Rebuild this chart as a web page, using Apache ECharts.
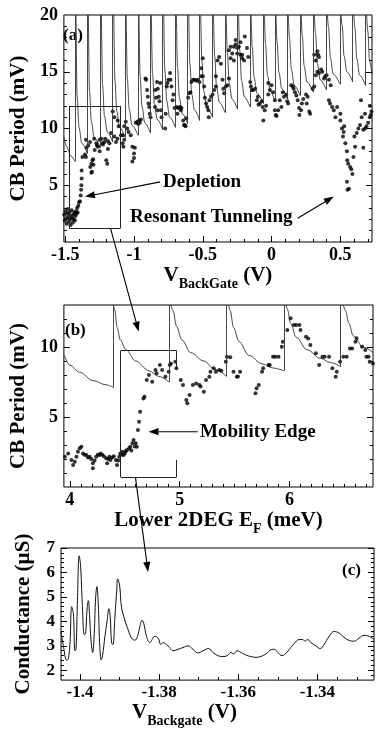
<!DOCTYPE html>
<html>
<head>
<meta charset="utf-8">
<script src="https://cdn.jsdelivr.net/npm/echarts@6/dist/echarts.min.js"></script>
<style>
html, body { margin: 0; padding: 0; background: #fff; }
#chart { width: 377px; height: 729px; }
</style>
</head>
<body>
<div id="chart"></div>
<script>
// ---------- panel (a): CB period vs back gate ----------
const aXMajor = [-1.5, -1, -0.5, 0, 0.5];
const aXMinor = [-1.4, -1.3, -1.2, -1.1, -0.9, -0.8, -0.7, -0.6, -0.4, -0.3, -0.2, -0.1, 0.1, 0.2, 0.3, 0.4, 0.6, 0.7];
const aYLabels = [5, 10, 15, 20];
const aYMajor = [5, 10, 15];
const aYMinor = [1, 2, 3, 4, 6, 7, 8, 9, 11, 12, 13, 14, 16, 17, 18, 19];

// jumps of the model sawtooth and where each vertical starts
const aJumpX = [-1.43, -1.34, -1.245, -1.155, -1.065, -0.972, -0.882, -0.792, -0.70, -0.61, -0.523, -0.43,
  -0.338, -0.248, -0.157, -0.06, 0.024, 0.114, 0.207, 0.303, 0.398, 0.497, 0.59, 0.683];
const aJumpLow = [7.1, 7.8, 8.3, 8.8, 9.2, 9.4, 9.6, 9.9, 10.1, 10.4, 10.7, 11.0,
  11.4, 11.7, 11.9, 12.2, 12.4, 12.6, 12.9, 13.2, 13.4, 13.9, 14.1, 13.8];
const aCurves = [
  [[-1.51, 9.3], [-1.49, 8.4], [-1.46, 7.6], [-1.43, 7.1]],
  [[-1.422, 20], [-1.414, 12.8], [-1.40, 10.1], [-1.38, 8.7], [-1.34, 7.8]],
  [[-1.332, 20], [-1.324, 13.3], [-1.31, 10.6], [-1.29, 9.2], [-1.245, 8.3]],
  [[-1.237, 20], [-1.229, 13.8], [-1.215, 11.1], [-1.195, 9.7], [-1.155, 8.8]],
  [[-1.147, 20], [-1.139, 14.2], [-1.125, 11.5], [-1.105, 10.1], [-1.065, 9.2]],
  [[-1.057, 20], [-1.049, 14.4], [-1.035, 11.7], [-1.015, 10.3], [-0.972, 9.4]],
  [[-0.964, 20], [-0.956, 14.6], [-0.942, 11.9], [-0.922, 10.5], [-0.882, 9.6]],
  [[-0.874, 20], [-0.866, 14.9], [-0.852, 12.2], [-0.832, 10.8], [-0.792, 9.9]],
  [[-0.784, 20], [-0.776, 15.1], [-0.762, 12.4], [-0.742, 11.0], [-0.70, 10.1]],
  [[-0.692, 20], [-0.684, 15.4], [-0.67, 12.7], [-0.65, 11.3], [-0.61, 10.4]],
  [[-0.602, 20], [-0.594, 15.7], [-0.58, 13.0], [-0.56, 11.6], [-0.523, 10.7]],
  [[-0.515, 20], [-0.507, 16.0], [-0.493, 13.3], [-0.473, 11.9], [-0.43, 11.0]],
  [[-0.422, 20], [-0.414, 16.4], [-0.40, 13.7], [-0.38, 12.3], [-0.338, 11.4]],
  [[-0.33, 20], [-0.322, 16.7], [-0.308, 14.0], [-0.288, 12.6], [-0.248, 11.7]],
  [[-0.24, 20], [-0.232, 16.9], [-0.218, 14.2], [-0.198, 12.8], [-0.157, 11.9]],
  [[-0.149, 20], [-0.141, 17.2], [-0.127, 14.5], [-0.107, 13.1], [-0.06, 12.2]],
  [[-0.052, 20], [-0.044, 17.4], [-0.03, 14.7], [-0.01, 13.3], [0.024, 12.4]],
  [[0.032, 20], [0.04, 17.6], [0.054, 14.9], [0.074, 13.5], [0.114, 12.6]],
  [[0.122, 20], [0.13, 17.9], [0.144, 15.2], [0.164, 13.8], [0.207, 12.9]],
  [[0.215, 20], [0.223, 18.2], [0.237, 15.5], [0.257, 14.1], [0.303, 13.2]],
  [[0.311, 20], [0.319, 18.4], [0.333, 15.7], [0.353, 14.3], [0.398, 13.4]],
  [[0.406, 20], [0.414, 18.9], [0.428, 16.2], [0.448, 14.8], [0.497, 13.9]],
  [[0.505, 20], [0.513, 19.1], [0.527, 16.4], [0.547, 15.0], [0.59, 14.1]],
  [[0.598, 20], [0.606, 18.8], [0.62, 16.1], [0.64, 14.7], [0.683, 13.8]],
  [[0.691, 20], [0.699, 18.6], [0.713, 15.9], [0.73, 14.8]]
];
const aDots = [
  [-1.508, 2.4], [-1.503, 1.9], [-1.498, 2.7], [-1.494, 2.1], [-1.49, 1.6], [-1.486, 2.5], [-1.482, 2.9],
  [-1.478, 2.2], [-1.474, 1.8], [-1.47, 2.6], [-1.466, 2.0], [-1.462, 1.5], [-1.458, 2.3], [-1.454, 2.8],
  [-1.45, 2.1], [-1.446, 1.7], [-1.442, 2.4], [-1.438, 2.0], [-1.434, 2.6], [-1.43, 1.9], [-1.426, 2.3],
  [-1.422, 2.7], [-1.418, 2.5], [-1.414, 3.0], [-1.41, 2.6], [-1.405, 3.2], [-1.40, 3.5],
  [-1.393, 3.6], [-1.388, 4.1], [-1.385, 4.6], [-1.383, 5.0], [-1.381, 5.6], [-1.381, 6.3], [-1.375, 7.5],
  [-1.357, 7.7], [-1.35, 7.5], [-1.345, 8.3], [-1.333, 8.5], [-1.35, 9.0], [-1.32, 8.8], [-1.29, 9.1],
  [-1.27, 8.5], [-1.25, 9.0], [-1.23, 8.7], [-1.21, 9.1], [-1.19, 8.9], [-1.318, 6.6], [-1.31, 6.1],
  [-1.302, 7.2], [-1.295, 6.8], [-1.31, 6.9], [-1.306, 6.2], [-1.298, 7.3], [-1.286, 8.1], [-1.274, 8.7],
  [-1.262, 8.4], [-1.25, 8.0], [-1.238, 9.1], [-1.226, 8.6], [-1.214, 8.8], [-1.202, 7.2], [-1.195, 6.9],
  [-1.19, 8.2], [-1.179, 8.7], [-1.167, 9.6], [-1.143, 9.3], [-1.155, 11.5], [-1.143, 11.0], [-1.119, 10.7],
  [-1.112, 10.2], [-1.131, 8.8], [-1.12, 9.1],
  [-1.083, 8.7], [-1.077, 8.4], [-1.071, 9.0], [-1.095, 9.4], [-1.083, 9.4], [-1.071, 10.2], [-1.06, 10.6],
  [-1.024, 9.4], [-1.012, 8.4], [-1.0, 7.8], [-1.0, 7.4], [-1.012, 7.1], [-0.994, 8.3], [-0.988, 10.5],
  [-0.976, 10.6], [-0.97, 10.4], [-0.964, 10.7], [-0.958, 10.5], [-0.95, 10.8], [-1.05, 10.0], [-1.04, 9.7],
  [-0.917, 14.4], [-0.912, 14.3], [-0.905, 13.4], [-0.9, 12.8], [-0.895, 12.2], [-0.89, 11.9], [-0.886, 11.3],
  [-0.88, 11.0], [-0.845, 13.4], [-0.84, 12.7], [-0.848, 11.9], [-0.83, 11.6], [-0.833, 14.1], [-0.827, 13.5],
  [-0.82, 12.8], [-0.815, 12.4], [-0.81, 14.0], [-0.805, 11.6], [-0.8, 11.0],
  [-0.774, 10.0], [-0.77, 11.3], [-0.762, 13.7], [-0.757, 14.0], [-0.75, 14.3], [-0.738, 14.9], [-0.735, 14.3],
  [-0.728, 13.7], [-0.72, 12.5], [-0.714, 13.0], [-0.705, 11.8], [-0.69, 11.9], [-0.685, 11.3], [-0.679, 11.8],
  [-0.667, 11.9], [-0.66, 11.6], [-0.655, 11.8], [-0.643, 10.7], [-0.637, 10.3], [-0.631, 10.3], [-0.62, 10.9],
  [-0.625, 10.2],
  [-0.607, 12.7], [-0.6, 13.1], [-0.59, 13.2], [-0.583, 14.1], [-0.571, 14.3], [-0.56, 14.3], [-0.548, 14.2],
  [-0.536, 14.3], [-0.524, 14.1], [-0.512, 14.6], [-0.512, 15.3], [-0.5, 16.2], [-0.5, 14.6], [-0.49, 13.7],
  [-0.485, 12.7], [-0.476, 12.2], [-0.468, 11.9], [-0.457, 11.0], [-0.46, 11.6], [-0.452, 12.5], [-0.44, 12.8],
  [-0.429, 13.0], [-0.417, 13.4], [-0.405, 13.7], [-0.405, 14.6],
  [-0.393, 16.0], [-0.381, 16.3], [-0.369, 15.7], [-0.357, 14.3], [-0.351, 13.5], [-0.345, 13.1], [-0.333, 13.7],
  [-0.321, 13.8], [-0.31, 14.4], [-0.31, 16.9], [-0.298, 16.2], [-0.298, 17.2], [-0.286, 16.6], [-0.274, 17.2],
  [-0.274, 16.0], [-0.262, 17.8], [-0.262, 17.4], [-0.25, 17.1], [-0.25, 16.6], [-0.238, 17.2], [-0.226, 17.6],
  [-0.226, 16.5], [-0.214, 16.5], [-0.214, 16.2], [-0.2, 16.0], [-0.195, 18.1], [-0.179, 17.1], [-0.17, 16.3],
  [-0.155, 14.1], [-0.15, 13.7], [-0.143, 13.4],
  [-0.135, 13.4], [-0.119, 13.5], [-0.107, 12.5], [-0.1, 12.8], [-0.095, 12.1], [-0.085, 12.2], [-0.071, 12.4],
  [-0.065, 11.9], [-0.06, 10.7], [-0.05, 11.6], [-0.04, 12.0], [-0.024, 14.0], [-0.024, 13.0], [-0.012, 13.4],
  [0.0, 13.8], [0.012, 13.2], [0.024, 12.5], [0.024, 11.6], [0.03, 11.2], [0.036, 11.1], [0.048, 11.6],
  [0.06, 12.5], [0.071, 11.9], [0.082, 13.2], [0.09, 12.8], [0.107, 13.0], [0.114, 12.4], [0.12, 12.2],
  [0.143, 13.8], [0.155, 13.7], [0.16, 13.5], [0.17, 13.2], [0.18, 12.9], [0.19, 12.5], [0.2, 11.8],
  [0.202, 11.2], [0.214, 11.6], [0.22, 12.2], [0.23, 12.6], [0.25, 13.0], [0.255, 12.2], [0.262, 12.8],
  [0.274, 11.5], [0.28, 11.3], [0.298, 13.5], [0.31, 13.7], [0.31, 16.5], [0.321, 14.7], [0.321, 16.0],
  [0.333, 16.8], [0.338, 16.5], [0.345, 16.3], [0.333, 15.0], [0.345, 14.9], [0.36, 15.2], [0.369, 15.0],
  [0.381, 14.4], [0.39, 14.6], [0.4, 14.7],
  [0.417, 14.3], [0.417, 12.5], [0.425, 12.2], [0.43, 13.8], [0.44, 11.9], [0.452, 11.6], [0.464, 11.0],
  [0.476, 11.9], [0.5, 10.7], [0.5, 11.3], [0.512, 10.0], [0.524, 9.7], [0.519, 9.3], [0.528, 10.2],
  [0.536, 8.7], [0.548, 8.0], [0.55, 7.2], [0.557, 6.9], [0.571, 6.6], [0.548, 5.3], [0.552, 4.6],
  [0.562, 4.7], [0.588, 6.0], [0.58, 6.4], [0.595, 7.5], [0.607, 8.4], [0.602, 9.3], [0.619, 9.6],
  [0.631, 10.0], [0.643, 10.3], [0.655, 11.0], [0.65, 12.5], [0.667, 9.9], [0.667, 8.3], [0.679, 10.0],
  [0.69, 10.2], [0.702, 10.5], [0.714, 11.0], [0.726, 11.5], [0.679, 11.3], [0.714, 12.0], [0.72, 11.2]
];

// ---------- panel (b): CB period vs lower 2DEG Fermi energy ----------
const bXMajor = [4, 5, 6];
const bXMinor = [4.1, 4.2, 4.3, 4.4, 4.5, 4.6, 4.7, 4.8, 4.9, 5.1, 5.2, 5.3, 5.4, 5.5, 5.6, 5.7, 5.8, 5.9, 6.1, 6.2, 6.3, 6.4, 6.5, 6.6, 6.7];
const bYLabels = [5, 10];
const bYMinor = [1, 2, 3, 4, 6, 7, 8, 9, 11, 12];
const bJumpX = [4.397, 4.902, 5.426, 5.949, 6.462];
const bJumpLow = [7.1, 7.5, 7.9, 8.3, 8.6];
const bCurves = [
  [[3.95, 9.4], [4.0, 8.7], [4.09, 8.2], [4.21, 7.6], [4.33, 7.3], [4.397, 7.1]],
  [[4.398, 13], [4.41, 12.6], [4.43, 11.4], [4.46, 10.5], [4.51, 9.8], [4.60, 9.0], [4.72, 8.3], [4.81, 7.9], [4.902, 7.5]],
  [[4.92, 13], [4.94, 12.6], [4.97, 11.5], [5.02, 10.5], [5.10, 9.6], [5.22, 9.0], [5.32, 8.4], [5.426, 7.9]],
  [[5.445, 13], [5.46, 12.6], [5.49, 11.4], [5.54, 10.4], [5.63, 9.4], [5.75, 8.8], [5.85, 8.5], [5.949, 8.3]],
  [[5.97, 13], [5.98, 12.7], [6.01, 11.7], [6.06, 10.7], [6.16, 9.8], [6.28, 9.2], [6.37, 8.9], [6.462, 8.6]],
  [[6.49, 13], [6.51, 12.6], [6.54, 11.7], [6.58, 10.8], [6.67, 10.0], [6.76, 9.6]]
];
const bDots = [
  [3.955, 2.16], [3.985, 2.4], [4.015, 1.93], [4.03, 1.57], [4.045, 1.81], [4.06, 2.16], [4.074, 2.52],
  [4.09, 2.76], [4.105, 2.88], [4.12, 2.4], [4.135, 2.3], [4.15, 2.29], [4.165, 2.1], [4.18, 2.16],
  [4.195, 2.0], [4.21, 1.69], [4.21, 1.34], [4.225, 1.9], [4.24, 2.16], [4.255, 2.3], [4.27, 2.29],
  [4.28, 2.4], [4.295, 2.3], [4.31, 2.2], [4.33, 2.05], [4.34, 1.69], [4.35, 2.0], [4.36, 2.16],
  [4.37, 1.93], [4.385, 2.1], [4.40, 2.2], [4.42, 1.93], [4.43, 1.57], [4.44, 1.9], [4.45, 2.16],
  [4.46, 2.4], [4.47, 2.3], [4.48, 2.52], [4.49, 2.29], [4.50, 2.4], [4.51, 2.55], [4.52, 2.64],
  [4.54, 2.76], [4.55, 2.88], [4.56, 2.6], [4.57, 3.12], [4.58, 3.36], [4.59, 2.9], [4.60, 3.12],
  [4.61, 2.88], [4.62, 4.07], [4.63, 4.66], [4.64, 5.38], [4.67, 6.33], [4.68, 6.45], [4.70, 7.64],
  [4.72, 8.0], [4.75, 7.52], [4.78, 8.36], [4.79, 8.12], [4.82, 8.71], [4.84, 8.36], [4.87, 7.88],
  [4.90, 8.24], [4.91, 8.71], [4.92, 8.83], [4.96, 8.95], [4.97, 8.48], [5.01, 7.64], [5.03, 7.29],
  [5.06, 6.21], [5.07, 5.98], [5.09, 6.57], [5.12, 7.29], [5.15, 7.4], [5.18, 7.29], [5.19, 7.17],
  [5.22, 6.81], [5.24, 7.64], [5.27, 7.88], [5.28, 8.24], [5.31, 8.48], [5.33, 8.24], [5.36, 8.36],
  [5.38, 8.3], [5.42, 8.95], [5.43, 9.31], [5.46, 9.26], [5.49, 8.24], [5.52, 7.88], [5.53, 7.9],
  [5.55, 8.24], [5.69, 6.69], [5.70, 7.05], [5.72, 7.29], [5.75, 8.24], [5.76, 8.48], [5.81, 8.71],
  [5.82, 8.71], [5.85, 9.31], [5.87, 9.31], [5.90, 9.31], [5.93, 10.02], [5.94, 10.38], [5.98, 11.21],
  [6.01, 12.05], [6.04, 11.57], [6.06, 11.57], [6.09, 11.57], [6.10, 11.21], [6.15, 10.74], [6.17, 10.6],
  [6.19, 10.14], [6.24, 9.55], [6.27, 8.71], [6.30, 9.31], [6.32, 9.31], [6.36, 9.31], [6.39, 8.48],
  [6.42, 7.88], [6.43, 8.24], [6.46, 8.95], [6.49, 9.31], [6.52, 9.31], [6.55, 9.9], [6.57, 9.9],
  [6.60, 10.38], [6.61, 10.62], [6.66, 10.02], [6.69, 9.79], [6.70, 9.31], [6.72, 9.31], [6.73, 8.95],
  [6.76, 8.83]
];

// ---------- panel (c): conductance vs back gate ----------
const cXMajor = [-1.4, -1.38, -1.36, -1.34];
const cXMinor = [-1.395, -1.39, -1.385, -1.375, -1.37, -1.365, -1.355, -1.35, -1.345, -1.335, -1.33];
const cYLabels = [2, 3, 4, 5, 6, 7];
const cYMinor = [1.8, 2.2, 2.4, 2.6, 2.8, 3.2, 3.4, 3.6, 3.8, 4.2, 4.4, 4.6, 4.8, 5.2, 5.4, 5.6, 5.8, 6.2, 6.4, 6.6, 6.8];
const cTrace = [
  [-1.40479, 3.59], [-1.4042, 3.0], [-1.40336, 2.41], [-1.40294, 2.48], [-1.40252, 3.13], [-1.4021, 4.6],
  [-1.40168, 4.31], [-1.40126, 2.8], [-1.401, 2.86], [-1.40067, 4.7], [-1.4002, 6.68], [-1.39985, 6.28],
  [-1.39941, 4.7], [-1.39891, 3.46], [-1.39857, 3.52], [-1.39824, 4.44], [-1.3979, 4.85], [-1.39756, 4.18],
  [-1.39723, 3.26], [-1.3968, 2.73], [-1.3964, 3.52], [-1.39605, 4.96], [-1.39572, 5.42], [-1.39538, 4.7],
  [-1.39504, 3.13], [-1.39463, 2.42], [-1.39429, 2.61], [-1.3937, 3.39], [-1.39312, 4.05], [-1.3927, 4.52],
  [-1.39236, 4.18], [-1.39202, 3.13], [-1.39168, 3.05], [-1.39118, 4.18], [-1.39068, 5.36], [-1.3905, 5.74],
  [-1.39, 5.49], [-1.3895, 4.57], [-1.38866, 4.05], [-1.38782, 3.65], [-1.38698, 3.32], [-1.38614, 3.23],
  [-1.38547, 3.39], [-1.38488, 3.78], [-1.3843, 4.05], [-1.3838, 3.86], [-1.3832, 3.39], [-1.38236, 3.13],
  [-1.38177, 3.26], [-1.3811, 3.39], [-1.38026, 3.32], [-1.37959, 3.06], [-1.37901, 3.13], [-1.37816, 3.06],
  [-1.37733, 2.93], [-1.37649, 2.8], [-1.37523, 2.86], [-1.37397, 2.93], [-1.37271, 3.0], [-1.37145, 2.86],
  [-1.3702, 2.71], [-1.36894, 2.8], [-1.3675, 2.89], [-1.36642, 2.73], [-1.36516, 2.6], [-1.3639, 2.56],
  [-1.3628, 2.6], [-1.3618, 2.73], [-1.36121, 2.67], [-1.36029, 2.8], [-1.35928, 2.73], [-1.35802, 2.62],
  [-1.35676, 2.56], [-1.3555, 2.53], [-1.35424, 2.57], [-1.35298, 2.67], [-1.35172, 2.84], [-1.35088, 2.86],
  [-1.35004, 2.73], [-1.34894, 2.6], [-1.34811, 2.67], [-1.3471, 2.86], [-1.34584, 3.1], [-1.34458, 3.26],
  [-1.34374, 3.26], [-1.34314, 3.19], [-1.34248, 3.26], [-1.34164, 3.13], [-1.34038, 3.0], [-1.3393, 2.89],
  [-1.33829, 3.06], [-1.33703, 3.39], [-1.33577, 3.59], [-1.33451, 3.52], [-1.33325, 3.35], [-1.33199, 3.22],
  [-1.33073, 3.19], [-1.32947, 3.32], [-1.32821, 3.43], [-1.32695, 3.39], [-1.32569, 3.26]
];

const FONT = '"Liberation Serif", "DejaVu Serif", serif';
const INK = '#000';

function nameStyle(size) {
  return {
    color: INK, fontFamily: FONT, fontWeight: 'bold', fontSize: size,
    rich: {
      m: {fontSize: 21, fontWeight: 'bold', fontFamily: FONT, color: INK, verticalAlign: 'bottom', padding: [0, 0, 5, 0]},
      s: {fontSize: 14, fontWeight: 'bold', fontFamily: FONT, color: INK, verticalAlign: 'bottom'}
    }
  };
}

const noLine = {show: false, onZero: false};

function xAxes(g, min, max, major, minor, labelSize, name, gap, pad) {
  const ns = nameStyle(21);
  if (pad) ns.padding = pad;
  return [
    {
      type: 'value', gridIndex: g, min: min, max: max, position: 'bottom',
      axisLine: noLine, splitLine: {show: false},
      axisTick: {inside: true, length: 6, customValues: major, lineStyle: {color: INK}},
      axisLabel: {customValues: major, margin: 4, color: INK, fontFamily: FONT, fontWeight: 'bold', fontSize: labelSize},
      name: name, nameLocation: 'middle', nameGap: gap, nameTextStyle: ns
    },
    {
      type: 'value', gridIndex: g, min: min, max: max, position: 'bottom',
      axisLine: noLine, splitLine: {show: false},
      axisTick: {inside: true, length: 3, customValues: minor, lineStyle: {color: INK}},
      axisLabel: {show: false}
    }
  ];
}

function yAxes(g, min, max, labels, major, minor, labelSize, name, gap) {
  const base = {type: 'value', gridIndex: g, min: min, max: max, axisLine: noLine, splitLine: {show: false}};
  return [
    Object.assign({}, base, {
      position: 'left',
      axisTick: {inside: true, length: 6, customValues: major, lineStyle: {color: INK}},
      axisLabel: {customValues: labels, margin: 6, color: INK, fontFamily: FONT, fontWeight: 'bold', fontSize: labelSize},
      name: name, nameLocation: 'middle', nameGap: gap, nameRotate: 90, nameTextStyle: nameStyle(21)
    }),
    Object.assign({}, base, {
      position: 'left', axisLabel: {show: false},
      axisTick: {inside: true, length: 3, customValues: minor, lineStyle: {color: INK}}
    }),
    Object.assign({}, base, {
      position: 'right', axisLabel: {show: false},
      axisTick: {inside: true, length: 6, customValues: major, lineStyle: {color: INK}}
    }),
    Object.assign({}, base, {
      position: 'right', axisLabel: {show: false},
      axisTick: {inside: true, length: 3, customValues: minor, lineStyle: {color: INK}}
    })
  ];
}

const curveStyle = {color: '#333', width: 0.9};
const series = [];

function addPanel(xi, yi, curves, jumpX, jumpLow, top, dots, symSize) {
  curves.forEach(function (seg) {
    series.push({
      type: 'line', xAxisIndex: xi, yAxisIndex: yi, data: seg, showSymbol: false,
      smooth: 0.35, smoothMonotone: 'x', lineStyle: curveStyle, silent: true, z: 2
    });
  });
  series.push({
    type: 'line', xAxisIndex: xi, yAxisIndex: yi, data: [], silent: true,
    markLine: {
      silent: true, symbol: ['none', 'none'], label: {show: false}, animation: false,
      lineStyle: {color: '#333', width: 0.9, type: 'solid'},
      data: jumpX.map(function (x, i) { return [{coord: [x, jumpLow[i]]}, {coord: [x, top]}]; })
    }
  });
  series.push({
    type: 'scatter', xAxisIndex: xi, yAxisIndex: yi, data: dots, symbol: 'circle',
    symbolSize: symSize, itemStyle: {color: '#000'}, silent: true, z: 3
  });
}

addPanel(0, 0, aCurves, aJumpX, aJumpLow, 20, aDots, 4);
addPanel(2, 4, bCurves, bJumpX, bJumpLow, 13, bDots, 4);

series.push({
  type: 'line', xAxisIndex: 4, yAxisIndex: 8, data: cTrace, showSymbol: false, smooth: 0.4,
  lineStyle: {color: '#111', width: 1}, silent: true
});

// zoom boxes, drawn in data space of their own panel
function boxLines(xi, yi, segs) {
  series.push({
    type: 'line', xAxisIndex: xi, yAxisIndex: yi, data: [], silent: true,
    markLine: {
      silent: true, symbol: ['none', 'none'], label: {show: false}, animation: false,
      lineStyle: {color: '#222', width: 1, type: 'solid'},
      data: segs.map(function (s) { return [{coord: s[0]}, {coord: s[1]}]; })
    }
  });
}
boxLines(0, 0, [
  [[-1.47, 1.2], [-1.10, 1.2]], [[-1.47, 12.0], [-1.10, 12.0]],
  [[-1.47, 1.2], [-1.47, 12.0]], [[-1.10, 1.2], [-1.10, 12.0]]
]);
boxLines(2, 4, [
  [[4.463, 0.71], [4.97, 0.71]], [[4.463, 9.75], [4.97, 9.75]],
  [[4.463, 0.71], [4.463, 9.75]], [[4.97, 9.75], [4.97, 8.48]], [[4.97, 0.71], [4.97, 1.93]]
]);

const option = {
  animation: false,
  backgroundColor: '#fff',
  grid: [
    {left: 58, top: 15, width: 314, height: 227, show: true, borderColor: INK, borderWidth: 1},
    {left: 59, top: 305, width: 314, height: 182, show: true, borderColor: INK, borderWidth: 1},
    {left: 61, top: 548, width: 313, height: 138, show: true, borderColor: INK, borderWidth: 1}
  ],
  xAxis: [].concat(
    xAxes(0, -1.51, 0.73, aXMajor, aXMinor, 18, '{m|V}{s|BackGate}{m| (V)}', 20),
    xAxes(1, 3.946, 6.76, bXMajor, bXMinor, 18, '{m|Lower 2DEG E}{s|F}{m| (meV)}', 19),
    xAxes(2, -1.4048, -1.3257, cXMajor, cXMinor, 17, '{m|V}{s|Backgate}{m| (V)}', 19, [0, 66, 0, 0])
  ),
  yAxis: [].concat(
    yAxes(0, 0, 20, aYLabels, aYMajor, aYMinor, 18, 'CB Period (mV)', 27),
    yAxes(1, 0, 13, bYLabels, bYLabels, bYMinor, 18, 'CB Period (mV)', 27),
    yAxes(2, 1.6, 7, cYLabels, cYLabels, cYMinor, 17, 'Conductance (\u00b5S)', 27)
  ),
  series: series
};

const chart = echarts.init(document.getElementById('chart'));
chart.setOption(option);

// annotations that need pixel positions (arrows crossing panels, labels)
function px(xi, yi, p) { return chart.convertToPixel({xAxisIndex: xi, yAxisIndex: yi}, p); }
function arrow(p1, p2) {
  const dx = p2[0] - p1[0], dy = p2[1] - p1[1], L = Math.hypot(dx, dy);
  const ux = dx / L, uy = dy / L, hl = 10, hw = 3.6;
  const bx = p2[0] - ux * hl, by = p2[1] - uy * hl;
  return [
    {type: 'line', silent: true, shape: {x1: p1[0], y1: p1[1], x2: bx, y2: by}, style: {stroke: '#000', lineWidth: 1.1}},
    {type: 'polygon', silent: true, shape: {points: [[p2[0], p2[1]], [bx - uy * hw, by + ux * hw], [bx + uy * hw, by - ux * hw]]}, style: {fill: '#000'}}
  ];
}
function label(text, x, y, size) {
  return {
    type: 'text', x: x, y: y, silent: true,
    style: {text: text, fill: '#000', font: 'bold ' + size + 'px ' + FONT, textAlign: 'left', textVerticalAlign: 'middle'}
  };
}

const graphics = [].concat(
  arrow(px(0, 0, [-0.81, 5.3]), px(0, 0, [-1.357, 4.0])),
  arrow(px(0, 0, [0.19, 2.1]), px(0, 0, [0.452, 4.0])),
  arrow(px(2, 4, [5.164, 3.95]), px(2, 4, [4.716, 3.95])),
  arrow(px(0, 0, [-1.171, 1.2]), px(2, 4, [4.627, 11.1])),
  arrow(px(2, 4, [4.597, 0.71]), px(4, 8, [-1.3828, 6.02])),
  [
    label('(a)', 63, 36, 17),
    label('Depletion', 163, 182, 19),
    label('Resonant Tunneling', 130, 217, 19),
    label('(b)', 65, 331, 17),
    label('Mobility Edge', 200, 432, 19),
    label('(c)', 342, 571, 17)
  ]
);
chart.setOption({graphic: graphics});
</script>
</body>
</html>
